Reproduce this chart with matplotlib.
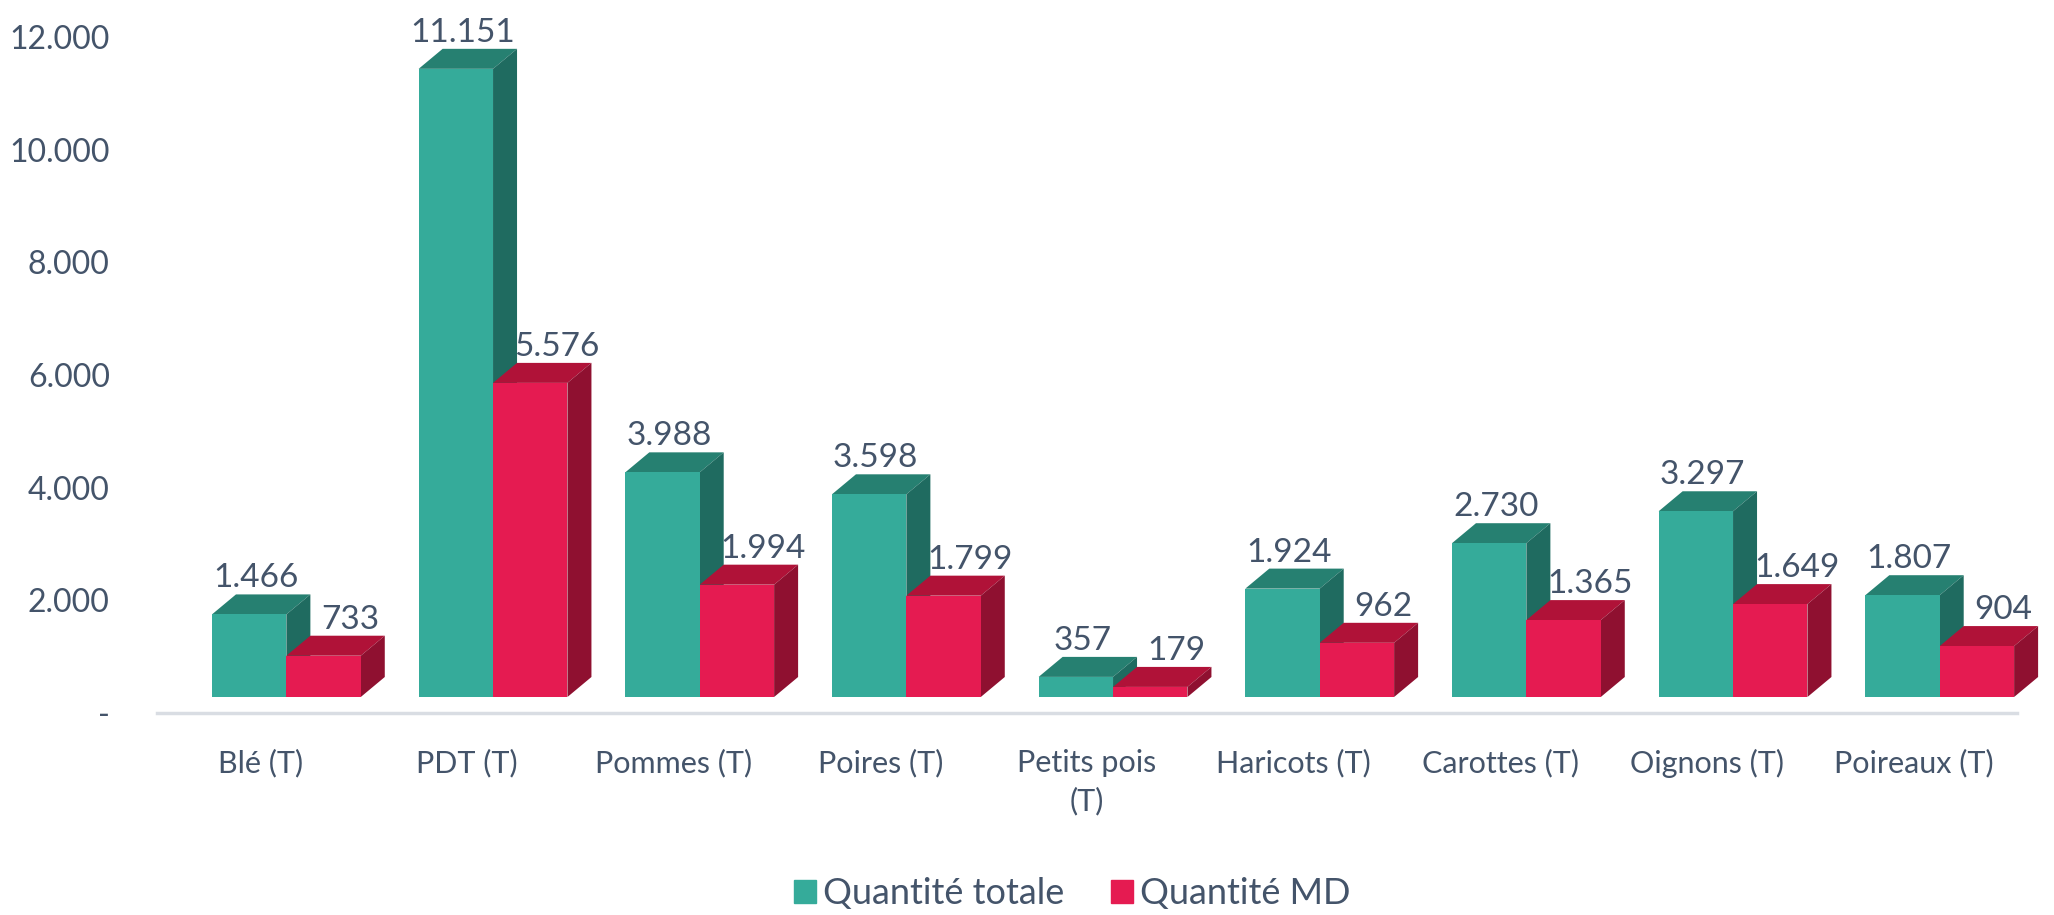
import matplotlib
matplotlib.use("Agg")
import matplotlib.pyplot as plt
from matplotlib.patches import Polygon, Patch

categories = ["Blé (T)", "PDT (T)", "Pommes (T)", "Poires (T)", "Petits pois\n(T)",
              "Haricots (T)", "Carottes (T)", "Oignons (T)", "Poireaux (T)"]
qte_totale = [1466, 11151, 3988, 3598, 357, 1924, 2730, 3297, 1807]
qte_md = [733, 5576, 1994, 1799, 179, 962, 1365, 1649, 904]
series_names = ["Quantité totale", "Quantité MD"]
y_ticks = [0, 2000, 4000, 6000, 8000, 10000, 12000]

text_col = "#44546A"
green = ("#35AB9A", "#268071", "#1F6B60")   # front, top, side
red = ("#E51B51", "#B01238", "#8F1030")

plt.rcParams["font.family"] = ["Lato", "DejaVu Sans"]

W, H, DPI = 2054, 915, 100
fig = plt.figure(figsize=(W / DPI, H / DPI), dpi=DPI)
ax = fig.add_axes([157 / W, (H - 713) / H, (2017 - 157) / W, (713 - 37) / H])
ax.set_xlim(-0.5, len(categories) - 0.5)
ax.set_ylim(0, 12000)

# pixel -> data conversion for the fake 3D depth
bbox = ax.get_window_extent()
sx = bbox.width / (len(categories))
sy = bbox.height / 12000
base = 16 / sy          # floor raised above the axis line
ddx = 24 / sx           # depth, horizontal
ddy = 20 / sy           # depth, vertical

bw = 0.36
offsets = [-0.234, 0.126]
label_shift = [0.27, 1.1]   # label x offset, in units of depth

def bar3d(x0, val, cols, lshift):
    x1 = x0 + bw
    top = base + val
    ax.bar(x0, val, width=bw, bottom=base, align="edge", color=cols[0], lw=0, zorder=3)
    ax.add_patch(Polygon([(x0, top), (x1, top), (x1 + ddx, top + ddy), (x0 + ddx, top + ddy)],
                         closed=True, fc=cols[1], lw=0, zorder=2, clip_on=False))
    ax.add_patch(Polygon([(x1, base), (x1 + ddx, base + ddy), (x1 + ddx, top + ddy), (x1, top)],
                         closed=True, fc=cols[2], lw=0, zorder=2, clip_on=False))
    ax.annotate(f"{val:,}".replace(",", "."), (x0 + bw / 2 + ddx * lshift, top + ddy),
                xytext=(0, 5), textcoords="offset points", ha="center", va="baseline",
                fontsize=24, color=text_col, zorder=1)

for i in range(len(categories)):
    bar3d(i + offsets[0], qte_totale[i], green, label_shift[0])
for i in range(len(categories)):
    bar3d(i + offsets[1], qte_md[i], red, label_shift[1])

ax.set_yticks(y_ticks)
ax.set_yticklabels(["-" if v == 0 else f"{v:,}".replace(",", ".") for v in y_ticks])
ax.set_xticks(range(len(categories)))
ax.set_xticklabels(categories, linespacing=1.4)
ax.tick_params(axis="y", length=0, pad=34, labelsize=23, labelcolor=text_col)
ax.tick_params(axis="x", length=0, pad=26, labelsize=22, labelcolor=text_col)
for s in ["top", "right", "left"]:
    ax.spines[s].set_visible(False)
ax.spines["bottom"].set_color("#D9DDE3")
ax.spines["bottom"].set_linewidth(2.5)

handles = [Patch(color=green[0]), Patch(color=red[0])]
fig.legend(handles, series_names, loc="lower center", bbox_to_anchor=(0.522, -0.03), ncol=2,
           frameon=False, fontsize=26, labelcolor=text_col, handlelength=0.6, handleheight=0.6,
           handletextpad=0.2, columnspacing=1.3)

fig.savefig("out.png", dpi=DPI)
